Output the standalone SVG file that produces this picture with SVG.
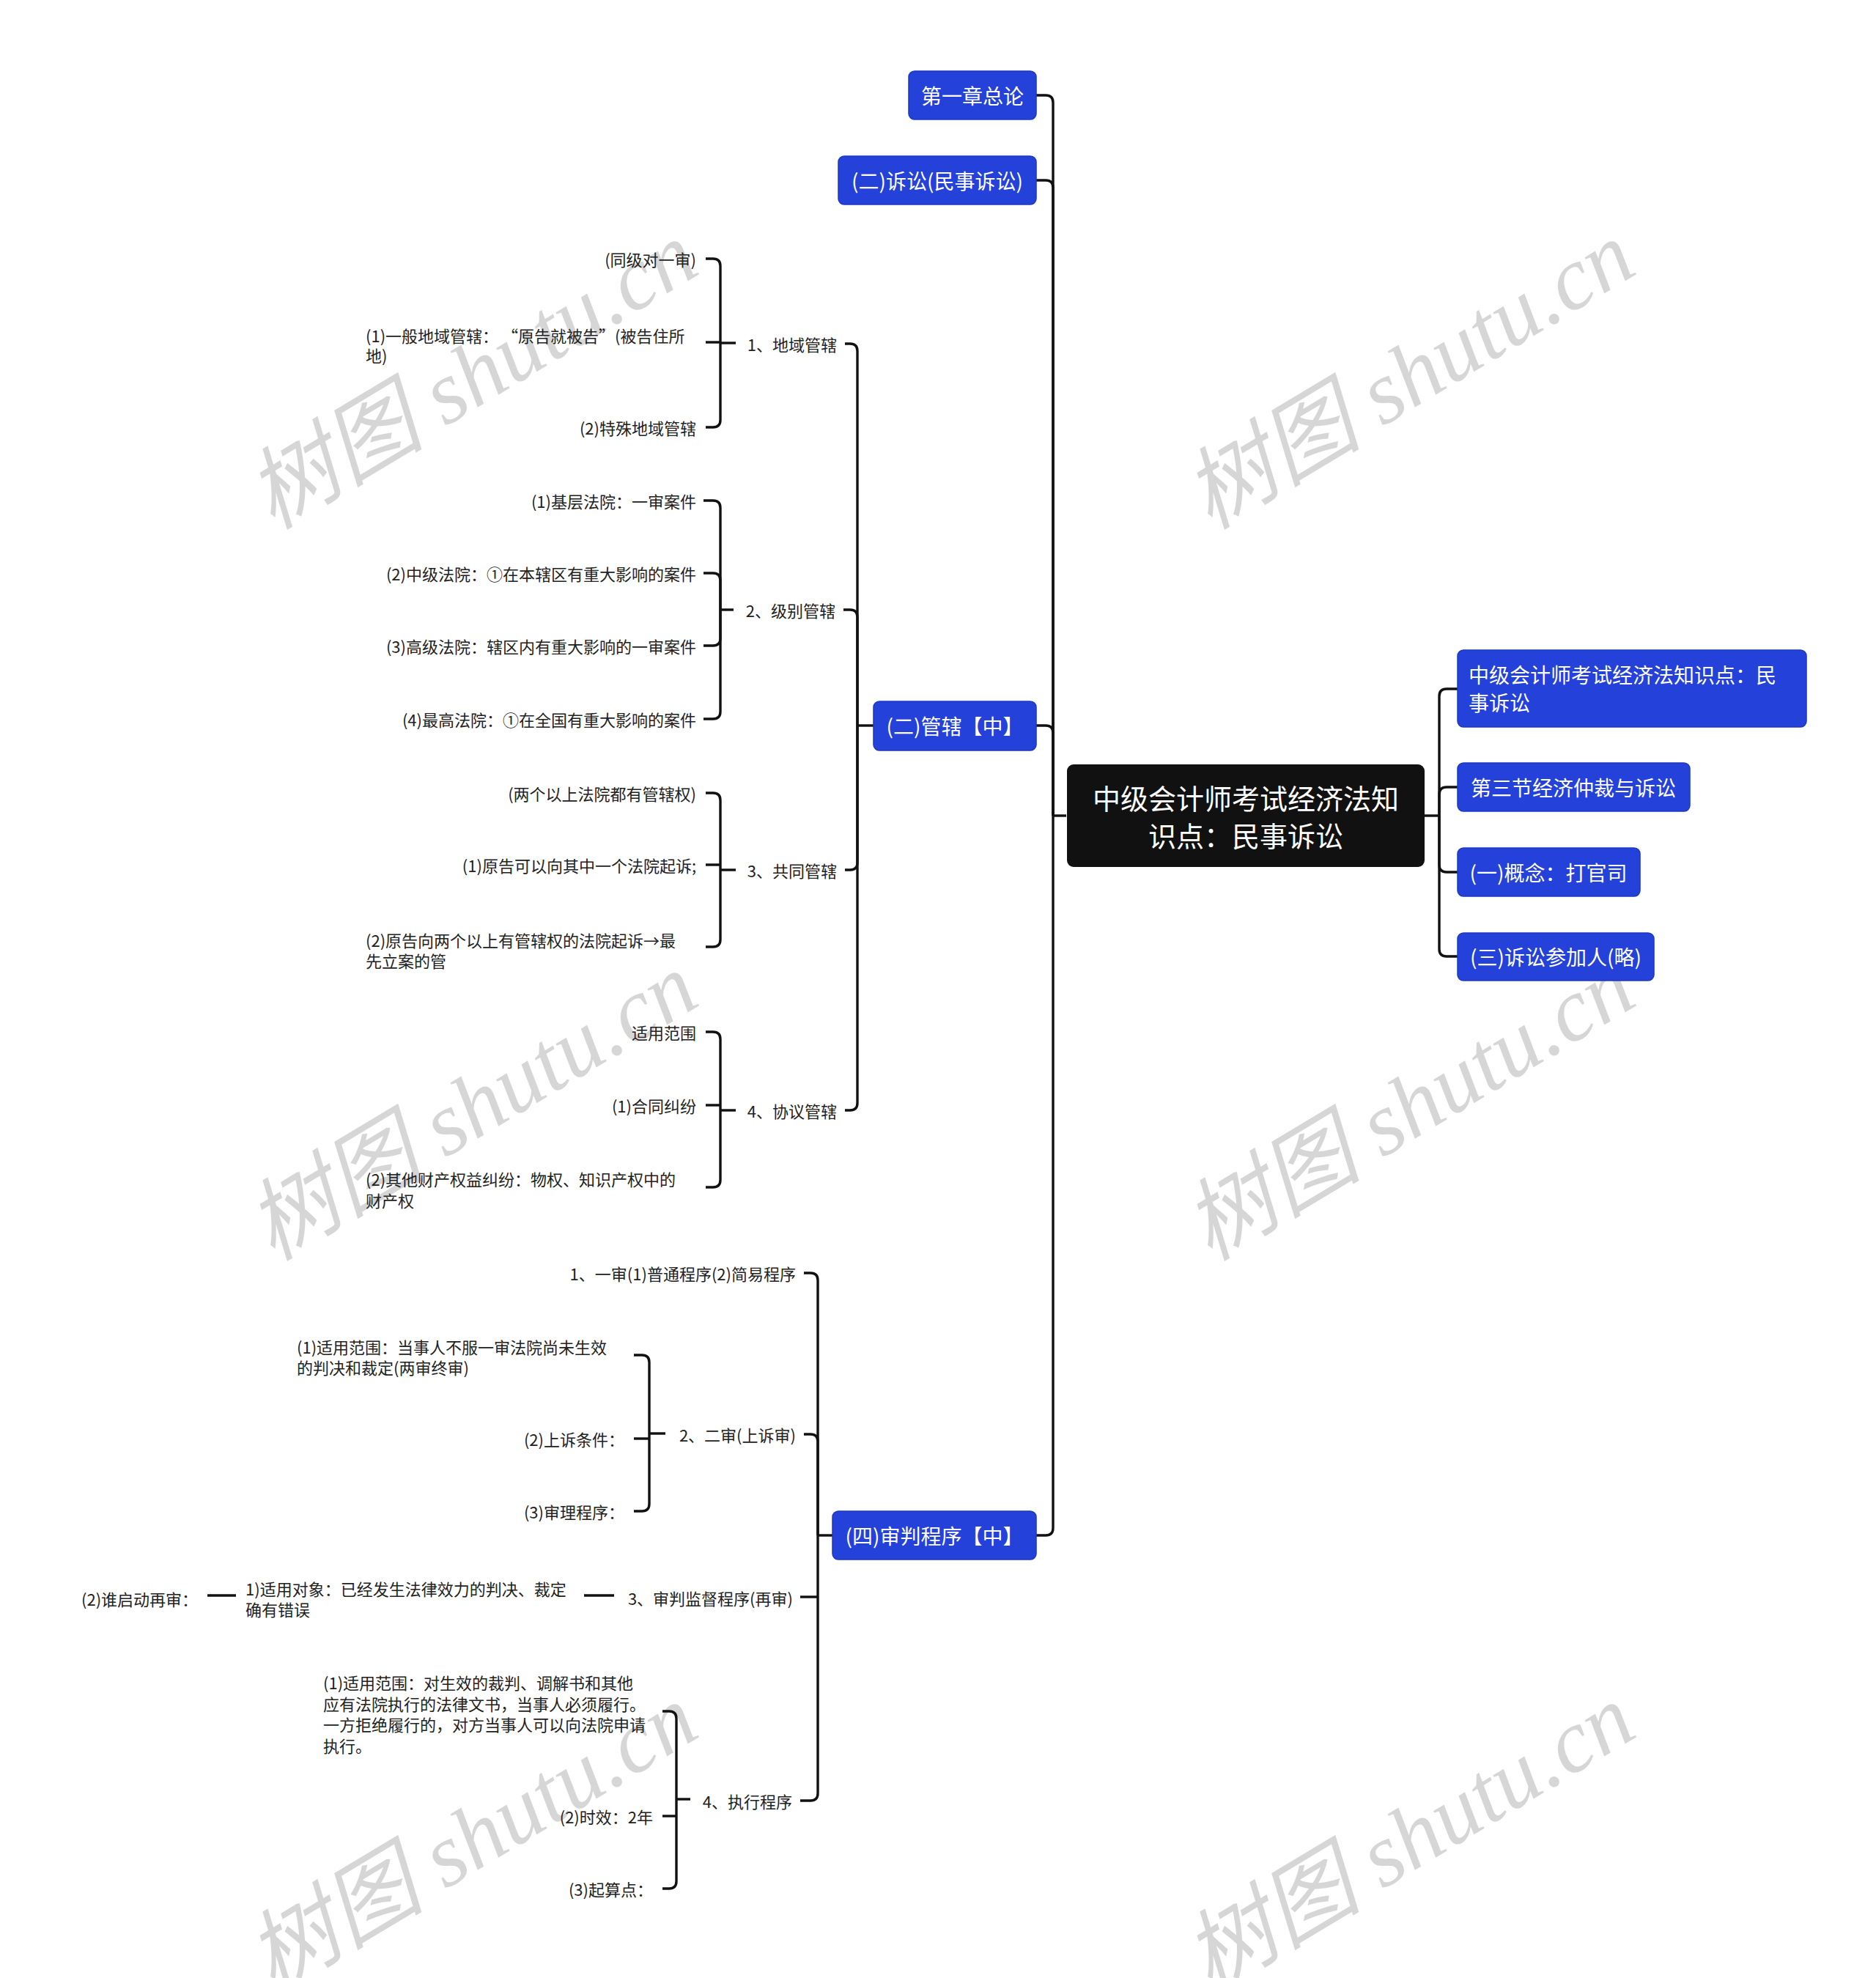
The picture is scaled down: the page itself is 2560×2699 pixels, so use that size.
<svg xmlns="http://www.w3.org/2000/svg" width="2560" height="2699" viewBox="0 0 2560 2699">
<style>
text{font-family:"Noto Sans CJK SC","Noto Sans",sans-serif;dominant-baseline:central}
.blue{fill:#2441D9;stroke:#1E38BF;stroke-width:1.5}
.bt{fill:#ffffff;font-size:28px}
.t{fill:#222222;font-size:22px}
.root{fill:#111111}
.rt{fill:#ffffff;font-size:38px}
.c{fill:none;stroke:#111111;stroke-width:3.4;stroke-linecap:butt}
.wm{font-family:"Liberation Serif","Noto Sans CJK SC",serif;font-style:italic;font-size:122px;fill:#000000;fill-opacity:0.16}
</style>
<rect width="2560" height="2699" fill="#ffffff"/>
<g id="watermarks">
<text class="wm" text-anchor="middle" transform="translate(644,512) rotate(-31)">树图 shutu.cn</text>
<text class="wm" text-anchor="middle" transform="translate(1923,512) rotate(-31)">树图 shutu.cn</text>
<text class="wm" text-anchor="middle" transform="translate(644,1510) rotate(-31)">树图 shutu.cn</text>
<text class="wm" text-anchor="middle" transform="translate(1923,1510) rotate(-31)">树图 shutu.cn</text>
<text class="wm" text-anchor="middle" transform="translate(644,2508) rotate(-31)">树图 shutu.cn</text>
<text class="wm" text-anchor="middle" transform="translate(1923,2508) rotate(-31)">树图 shutu.cn</text>
</g>
<g id="connectors">
<path class="c" d="M1455,1113 H1437"/>
<path class="c" d="M1437,1113 V140 Q1437,130 1427,130 H1414"/>
<path class="c" d="M1437,1113 V256 Q1437,246 1427,246 H1414"/>
<path class="c" d="M1437,1113 V1000 Q1437,990 1427,990 H1414"/>
<path class="c" d="M1437,1113 V2085 Q1437,2095 1427,2095 H1414"/>
<path class="c" d="M1944,1113 H1964"/>
<path class="c" d="M1964,1113 V950 Q1964,940 1974,940 H1989"/>
<path class="c" d="M1964,1113 V1084 Q1964,1074 1974,1074 H1989"/>
<path class="c" d="M1964,1113 V1180 Q1964,1190 1974,1190 H1989"/>
<path class="c" d="M1964,1113 V1295 Q1964,1305 1974,1305 H1989"/>
<path class="c" d="M1192,990 H1170"/>
<path class="c" d="M1170,990 V479 Q1170,469 1160,469 H1153"/>
<path class="c" d="M1170,990 V842 Q1170,832 1160,832 H1151"/>
<path class="c" d="M1170,990 V1177 Q1170,1187 1160,1187 H1153"/>
<path class="c" d="M1170,990 V1505 Q1170,1515 1160,1515 H1153"/>
<path class="c" d="M1004,468 H983"/>
<path class="c" d="M983,468 V363 Q983,353 973,353 H963"/>
<path class="c" d="M983,467 H963"/>
<path class="c" d="M983,468 V573 Q983,583 973,583 H963"/>
<path class="c" d="M1001,832 H983"/>
<path class="c" d="M983,832 V693 Q983,683 973,683 H960"/>
<path class="c" d="M983,832 V792 Q983,782 973,782 H960"/>
<path class="c" d="M983,832 V871 Q983,881 973,881 H960"/>
<path class="c" d="M983,832 V971 Q983,981 973,981 H960"/>
<path class="c" d="M1004,1187 H983"/>
<path class="c" d="M983,1187 V1092 Q983,1082 973,1082 H963"/>
<path class="c" d="M983,1180 H963"/>
<path class="c" d="M983,1187 V1282 Q983,1292 973,1292 H963"/>
<path class="c" d="M1004,1515 H983"/>
<path class="c" d="M983,1515 V1418 Q983,1408 973,1408 H963"/>
<path class="c" d="M983,1508 H963"/>
<path class="c" d="M983,1515 V1610 Q983,1620 973,1620 H963"/>
<path class="c" d="M1136,2095 H1116"/>
<path class="c" d="M1116,2095 V1747 Q1116,1737 1106,1737 H1097"/>
<path class="c" d="M1116,2095 V1967 Q1116,1957 1106,1957 H1097"/>
<path class="c" d="M1116,2179 H1092"/>
<path class="c" d="M1116,2095 V2447 Q1116,2457 1106,2457 H1092"/>
<path class="c" d="M908,1956 H886"/>
<path class="c" d="M886,1956 V1859 Q886,1849 876,1849 H865"/>
<path class="c" d="M886,1963 H865"/>
<path class="c" d="M886,1956 V2052 Q886,2062 876,2062 H865"/>
<path class="c" d="M838,2177 H797"/>
<path class="c" d="M322,2177 H283"/>
<path class="c" d="M942,2455 H923"/>
<path class="c" d="M923,2455 V2345 Q923,2335 913,2335 H904"/>
<path class="c" d="M923,2478 H904"/>
<path class="c" d="M923,2455 V2567 Q923,2577 913,2577 H904"/>
</g>
<g id="root">
<rect class="root" x="1456" y="1043" width="488" height="140" rx="9"/>
<text class="rt" text-anchor="middle" x="1700" y="1087">中级会计师考试经济法知</text>
<text class="rt" text-anchor="middle" x="1700" y="1138">识点：民事诉讼</text>
</g>
<g id="n-r1">
<rect class="blue" x="1989" y="887" width="476" height="105" rx="8"/>
<text class="bt" x="2004" y="920">中级会计师考试经济法知识点：民</text>
<text class="bt" x="2004" y="958">事诉讼</text>
</g>
<g id="n-r2">
<rect class="blue" x="1989" y="1041" width="317" height="66" rx="8"/>
<text class="bt" text-anchor="middle" x="2147" y="1074">第三节经济仲裁与诉讼</text>
</g>
<g id="n-r3">
<rect class="blue" x="1989" y="1157" width="249" height="66" rx="8"/>
<text class="bt" text-anchor="middle" x="2113" y="1190">(一)概念：打官司</text>
</g>
<g id="n-r4">
<rect class="blue" x="1989" y="1273" width="268" height="65" rx="8"/>
<text class="bt" text-anchor="middle" x="2123" y="1305">(三)诉讼参加人(略)</text>
</g>
<g id="n-l1">
<rect class="blue" x="1240" y="97" width="174" height="66" rx="8"/>
<text class="bt" text-anchor="middle" x="1327" y="130">第一章总论</text>
</g>
<g id="n-l2">
<rect class="blue" x="1144" y="213" width="270" height="66" rx="8"/>
<text class="bt" text-anchor="middle" x="1279" y="246">(二)诉讼(民事诉讼)</text>
</g>
<g id="n-l3">
<rect class="blue" x="1192" y="957" width="222" height="67" rx="8"/>
<text class="bt" text-anchor="middle" x="1303" y="990">(二)管辖【中】</text>
</g>
<g id="n-l4">
<rect class="blue" x="1136" y="2062" width="278" height="66" rx="8"/>
<text class="bt" text-anchor="middle" x="1275" y="2095">(四)审判程序【中】</text>
</g>
<g id="n-a1"><text class="t" text-anchor="end" x="1142" y="469">1、地域管辖</text></g>
<g id="n-a1-1"><text class="t" text-anchor="end" x="950" y="353">(同级对一审)</text></g>
<g id="n-a1-2"><text class="t" x="499" y="457">(1)一般地域管辖：  “原告就被告”(被告住所<tspan x="499" dy="27">地)</tspan></text></g>
<g id="n-a1-3"><text class="t" text-anchor="end" x="950" y="583">(2)特殊地域管辖</text></g>
<g id="n-a2"><text class="t" text-anchor="end" x="1140" y="832">2、级别管辖</text></g>
<g id="n-a2-1"><text class="t" text-anchor="end" x="950" y="683">(1)基层法院：一审案件</text></g>
<g id="n-a2-2"><text class="t" text-anchor="end" x="950" y="782">(2)中级法院：①在本辖区有重大影响的案件</text></g>
<g id="n-a2-3"><text class="t" text-anchor="end" x="950" y="881">(3)高级法院：辖区内有重大影响的一审案件</text></g>
<g id="n-a2-4"><text class="t" text-anchor="end" x="950" y="981">(4)最高法院：①在全国有重大影响的案件</text></g>
<g id="n-a3"><text class="t" text-anchor="end" x="1142" y="1187">3、共同管辖</text></g>
<g id="n-a3-1"><text class="t" text-anchor="end" x="950" y="1082">(两个以上法院都有管辖权)</text></g>
<g id="n-a3-2"><text class="t" text-anchor="end" x="950" y="1180">(1)原告可以向其中一个法院起诉;</text></g>
<g id="n-a3-3"><text class="t" x="499" y="1282">(2)原告向两个以上有管辖权的法院起诉→最<tspan x="499" dy="28">先立案的管</tspan></text></g>
<g id="n-a4"><text class="t" text-anchor="end" x="1142" y="1515">4、协议管辖</text></g>
<g id="n-a4-1"><text class="t" text-anchor="end" x="950" y="1408">适用范围</text></g>
<g id="n-a4-2"><text class="t" text-anchor="end" x="950" y="1508">(1)合同纠纷</text></g>
<g id="n-a4-3"><text class="t" x="499" y="1608">(2)其他财产权益纠纷：物权、知识产权中的<tspan x="499" dy="29">财产权</tspan></text></g>
<g id="n-b1"><text class="t" text-anchor="end" x="1086" y="1737">1、一审(1)普通程序(2)简易程序</text></g>
<g id="n-b2"><text class="t" text-anchor="end" x="1086" y="1957">2、二审(上诉审)</text></g>
<g id="n-b2-1"><text class="t" x="405" y="1837">(1)适用范围：当事人不服一审法院尚未生效<tspan x="405" dy="28">的判决和裁定(两审终审)</tspan></text></g>
<g id="n-b2-2"><text class="t" text-anchor="end" x="852" y="1963">(2)上诉条件：</text></g>
<g id="n-b2-3"><text class="t" text-anchor="end" x="852" y="2062">(3)审理程序：</text></g>
<g id="n-b3"><text class="t" text-anchor="end" x="1082" y="2180">3、审判监督程序(再审)</text></g>
<g id="n-b3-1"><text class="t" x="335" y="2167">1)适用对象：已经发生法律效力的判决、裁定<tspan x="335" dy="28">确有错误</tspan></text></g>
<g id="n-b3-2"><text class="t" x="111" y="2181">(2)谁启动再审：</text></g>
<g id="n-b4"><text class="t" text-anchor="end" x="1081" y="2457">4、执行程序</text></g>
<g id="n-b4-1"><text class="t" x="441" y="2295">(1)适用范围：对生效的裁判、调解书和其他<tspan x="441" dy="28.5">应有法院执行的法律文书，当事人必须履行。</tspan><tspan x="441" dy="28.5">一方拒绝履行的，对方当事人可以向法院申请</tspan><tspan x="441" dy="28.5">执行。</tspan></text></g>
<g id="n-b4-2"><text class="t" text-anchor="end" x="891" y="2478">(2)时效：2年</text></g>
<g id="n-b4-3"><text class="t" text-anchor="end" x="891" y="2577">(3)起算点：</text></g>
</svg>
